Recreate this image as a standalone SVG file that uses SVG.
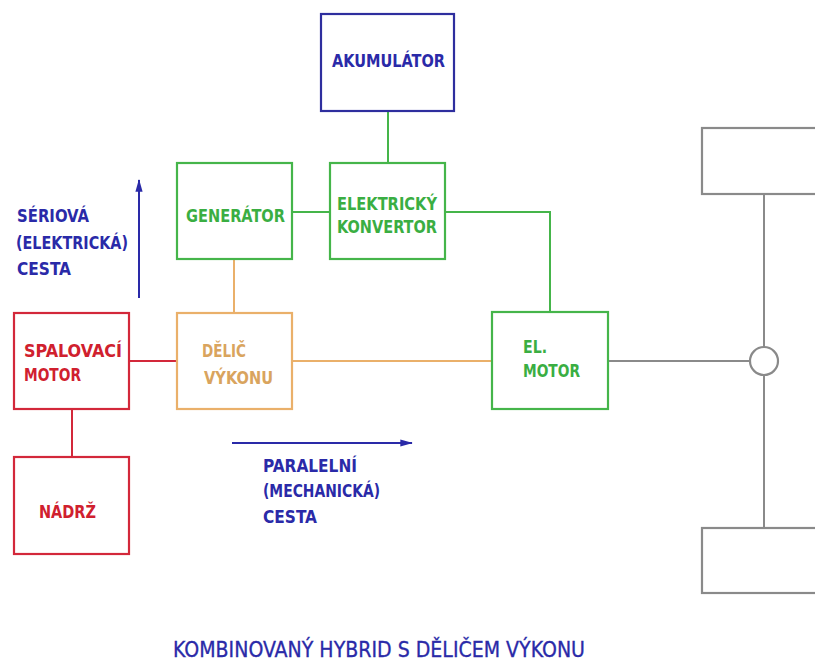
<svg xmlns="http://www.w3.org/2000/svg" width="815" height="661" viewBox="0 0 815 661">
<style>
.box{fill:none;stroke-width:2.2}
.t{font-family:"DejaVu Sans Condensed","DejaVu Sans",sans-serif;font-weight:bold;font-size:17px}
.blue{stroke:#2e2e9e}
.green{stroke:#45b54a}
.red{stroke:#d3283a}
.orange{stroke:#eab06a}
.gray{stroke:#8a8a8a}
.tb{fill:#2a2aa8}
.tg{fill:#3aae42}
.tr{fill:#d0202e}
.to{fill:#d9a45e}
.ln{fill:none;stroke-width:2}
</style>
<defs>
<marker id="ah" viewBox="0 0 14 10" refX="13" refY="5" markerWidth="14" markerHeight="9" markerUnits="userSpaceOnUse" orient="auto">
<path d="M0,1 L14,5 L0,9 Z" fill="#2a2aa8"/>
</marker>
</defs>
<rect width="815" height="661" fill="#ffffff"/>
<g id="connectors">
<line class="ln green" x1="388" y1="111" x2="388" y2="163"/>
<line class="ln green" x1="292" y1="212" x2="330" y2="212"/>
<polyline class="ln green" points="445,212 550,212 550,312"/>
<line class="ln orange" x1="234" y1="259" x2="234" y2="313"/>
<line class="ln red" x1="129" y1="361" x2="177" y2="361"/>
<line class="ln orange" x1="292" y1="361" x2="492" y2="361"/>
<line class="ln red" x1="72" y1="409" x2="72" y2="457"/>
<line class="ln gray" x1="608" y1="361" x2="750" y2="361"/>
<line class="ln gray" x1="764" y1="194" x2="764" y2="347"/>
<line class="ln gray" x1="764" y1="375" x2="764" y2="528"/>
<line class="ln" x1="139" y1="298" x2="139" y2="180" stroke="#2a2aa8" marker-end="url(#ah)"/>
<line class="ln" x1="232" y1="443" x2="412" y2="443" stroke="#2a2aa8" marker-end="url(#ah)"/>
</g>
<g id="akumulator">
<rect class="box blue" x="321" y="14" width="133" height="97"/>
<text class="t tb" x="332" y="67" textLength="113" lengthAdjust="spacingAndGlyphs">AKUMULÁTOR</text>
</g>
<g id="generator">
<rect class="box green" x="177" y="163" width="115" height="96"/>
<text class="t tg" x="186" y="222" textLength="99" lengthAdjust="spacingAndGlyphs">GENERÁTOR</text>
</g>
<g id="konvertor">
<rect class="box green" x="330" y="163" width="115" height="96"/>
<text class="t tg" x="337" y="210" textLength="100" lengthAdjust="spacingAndGlyphs">ELEKTRICKÝ</text>
<text class="t tg" x="337" y="233" textLength="100" lengthAdjust="spacingAndGlyphs">KONVERTOR</text>
</g>
<g id="spalovaci">
<rect class="box red" x="14" y="313" width="115" height="96"/>
<text class="t tr" x="24" y="357" textLength="98" lengthAdjust="spacingAndGlyphs">SPALOVACÍ</text>
<text class="t tr" x="24" y="381" textLength="57" lengthAdjust="spacingAndGlyphs">MOTOR</text>
</g>
<g id="delic">
<rect class="box orange" x="177" y="313" width="115" height="96"/>
<text class="t to" x="202" y="357" textLength="44" lengthAdjust="spacingAndGlyphs">DĚLIČ</text>
<text class="t to" x="204" y="384" textLength="69" lengthAdjust="spacingAndGlyphs">VÝKONU</text>
</g>
<g id="nadrz">
<rect class="box red" x="14" y="457" width="115" height="97"/>
<text class="t tr" x="39" y="518" textLength="57" lengthAdjust="spacingAndGlyphs">NÁDRŽ</text>
</g>
<g id="elmotor">
<rect class="box green" x="492" y="312" width="116" height="97"/>
<text class="t tg" x="523" y="353" textLength="24" lengthAdjust="spacingAndGlyphs">EL.</text>
<text class="t tg" x="523" y="377" textLength="57" lengthAdjust="spacingAndGlyphs">MOTOR</text>
</g>
<g id="wheel-top">
<rect class="box gray" x="702" y="128" width="140" height="66"/>
</g>
<g id="differential">
<circle class="box gray" cx="764" cy="361" r="14"/>
</g>
<g id="wheel-bottom">
<rect class="box gray" x="702" y="528" width="140" height="65"/>
</g>
<g id="label-seriova">
<text class="t tb" x="17" y="222" textLength="72" lengthAdjust="spacingAndGlyphs">SÉRIOVÁ</text>
<text class="t tb" x="16" y="249" textLength="112" lengthAdjust="spacingAndGlyphs">(ELEKTRICKÁ)</text>
<text class="t tb" x="17" y="275" textLength="54" lengthAdjust="spacingAndGlyphs">CESTA</text>
</g>
<g id="label-paralelni">
<text class="t tb" x="263" y="472" textLength="94" lengthAdjust="spacingAndGlyphs">PARALELNÍ</text>
<text class="t tb" x="263" y="497" textLength="117" lengthAdjust="spacingAndGlyphs">(MECHANICKÁ)</text>
<text class="t tb" x="263" y="523" textLength="54" lengthAdjust="spacingAndGlyphs">CESTA</text>
</g>
<g id="title">
<text x="173" y="657" font-family="DejaVu Sans Condensed, DejaVu Sans, sans-serif" font-size="21" fill="#2a2aa8" stroke="#2a2aa8" stroke-width="0.3" textLength="412" lengthAdjust="spacingAndGlyphs">KOMBINOVANÝ HYBRID S DĚLIČEM VÝKONU</text>
</g>
</svg>
